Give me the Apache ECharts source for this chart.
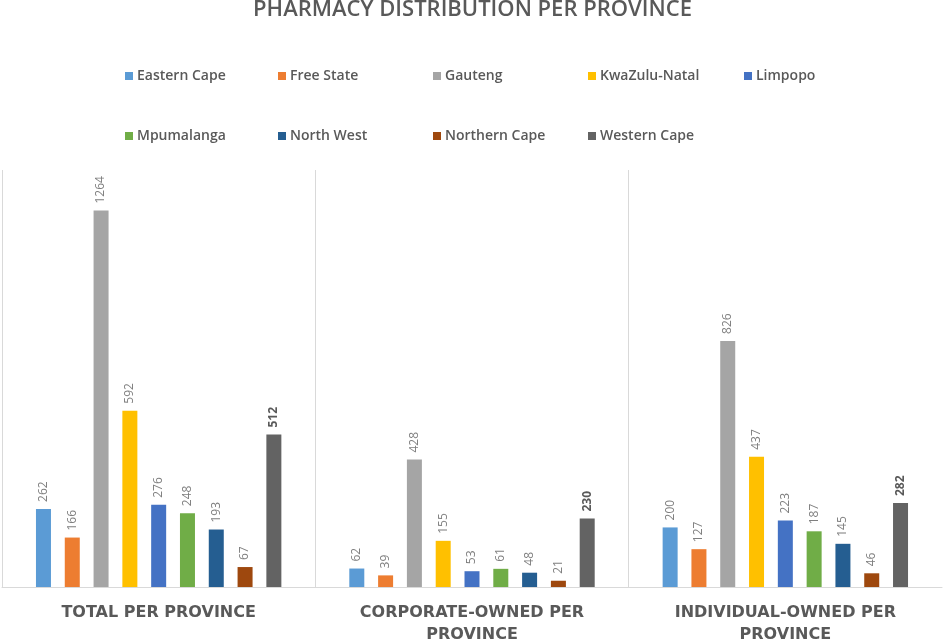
<!DOCTYPE html>
<html>
<head>
<meta charset="utf-8">
<script src="https://cdn.jsdelivr.net/npm/echarts@6/dist/echarts.min.js"></script>
<style>
html, body { margin: 0; padding: 0; background: #fff; }
#main { width: 945px; height: 640px; }
</style>
</head>
<body>
<div id="main"></div>
<script>
var categories = ['TOTAL PER PROVINCE', 'CORPORATE-OWNED PER\nPROVINCE', 'INDIVIDUAL-OWNED PER\nPROVINCE'];
var provinces = ['Eastern Cape', 'Free State', 'Gauteng', 'KwaZulu-Natal', 'Limpopo',
                 'Mpumalanga', 'North West', 'Northern Cape', 'Western Cape'];
var colors = ['#5B9BD5', '#ED7D31', '#A5A5A5', '#FFC000', '#4472C4',
              '#70AD47', '#255E91', '#9E480E', '#636363'];
// one array per province: [total, corporate, individual]
var easternCape  = [262, 62, 200];
var freeState    = [166, 39, 127];
var gauteng      = [1264, 428, 826];
var kwazuluNatal = [592, 155, 437];
var limpopo      = [276, 53, 223];
var mpumalanga   = [248, 61, 187];
var northWest    = [193, 48, 145];
var northernCape = [67, 21, 46];
var westernCape  = [512, 230, 282];
var values = [easternCape, freeState, gauteng, kwazuluNatal, limpopo,
              mpumalanga, northWest, northernCape, westernCape];

var chart = echarts.init(document.getElementById('main'));
var font = '"Open Sans", "Noto Sans", sans-serif';
var wideFont = '"DejaVu Sans", sans-serif';

var series = provinces.map(function (name, i) {
    var last = i === provinces.length - 1;
    return {
        name: name,
        type: 'bar',
        barWidth: 15,
        barGap: '92%',
        data: values[i],
        itemStyle: { color: colors[i] },
        label: {
            show: true,
            position: 'top',
            rotate: 90,
            align: 'left',
            verticalAlign: 'middle',
            distance: 7,
            fontFamily: font,
            fontSize: 12,
            fontWeight: last ? 'bold' : 'normal',
            color: last ? '#595959' : '#7f7f7f'
        }
    };
});

// legend: 5 columns, 2 rows, one small legend per province
var legendCols = [125, 278, 433, 588, 744];
var legends = provinces.map(function (name, i) {
    return {
        data: [name],
        left: legendCols[i % 5],
        top: i < 5 ? 69 : 129,
        itemWidth: 8,
        itemHeight: 8,
        itemGap: 0,
        icon: 'rect',
        padding: 0,
        textStyle: { fontFamily: font, fontSize: 14, fontWeight: 600, color: '#595959', padding: [0, 0, 0, -1] }
    };
});

var option = {
    animation: false,
    title: {
        text: 'PHARMACY DISTRIBUTION PER PROVINCE',
        left: 'center',
        top: -1,
        padding: 0,
        textStyle: { fontFamily: font, fontSize: 22, fontWeight: 600, color: '#595959' }
    },
    legend: legends,
    grid: { left: 2, right: 3, top: 170, bottom: 53, outerBoundsMode: 'none' },
    xAxis: {
        type: 'category',
        data: categories,
        axisLine: { lineStyle: { color: '#d9d9d9' } },
        axisTick: { show: false },
        splitLine: { show: true, lineStyle: { color: ['#d9d9d9', '#d9d9d9', '#d9d9d9', 'transparent'] } },
        axisLabel: {
            interval: 0,
            margin: 15,
            fontFamily: wideFont,
            fontSize: 16,
            fontWeight: 'bold',
            color: '#595959',
            lineHeight: 22
        }
    },
    yAxis: {
        type: 'value',
        min: 0,
        max: 1400,
        show: false,
        splitLine: { show: false }
    },
    series: series
};
chart.setOption(option);
</script>
</body>
</html>
